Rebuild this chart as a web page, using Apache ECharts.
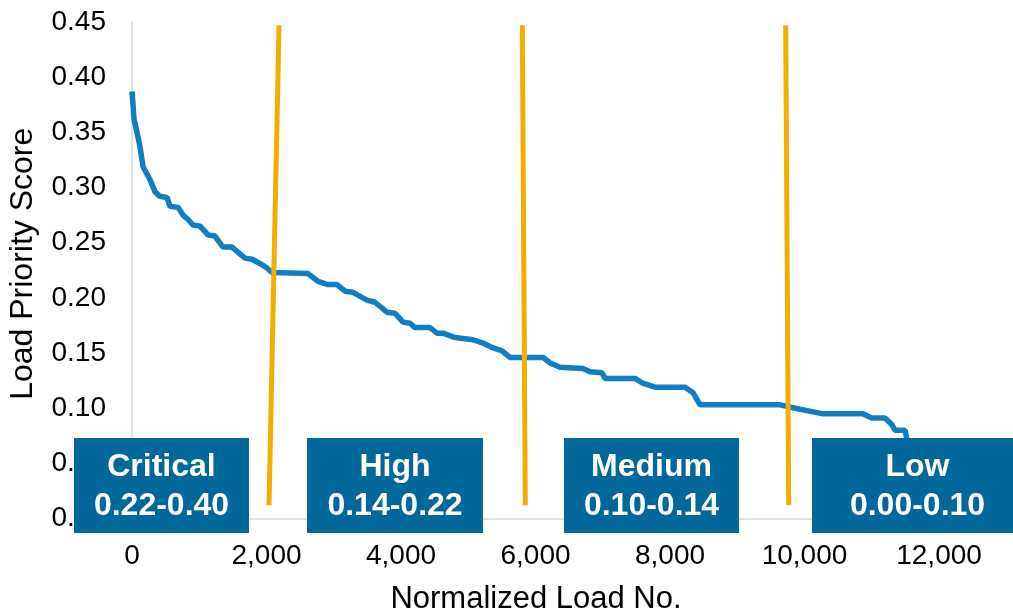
<!DOCTYPE html>
<html>
<head>
<meta charset="utf-8">
<script src="https://cdn.jsdelivr.net/npm/echarts@6/dist/echarts.min.js"></script>
<style>
html,body{margin:0;padding:0;background:#fff;}
#chart{width:1013px;height:612px;}
</style>
</head>
<body>
<div id="chart"></div>
<script>
// Normalized load number (x) and load priority score (y) of the sorted curve
const loadNo = [0, 15, 30, 74, 119, 164, 268, 342, 416, 520,
  565, 684, 758, 833, 907, 1011, 1130, 1234, 1353, 1487,
  1680, 1784, 1933, 2007, 2082, 2617, 2766, 2915, 3048, 3167,
  3286, 3494, 3613, 3792, 3911, 4030, 4134, 4208, 4431, 4535,
  4625, 4803, 5071, 5219, 5353, 5502, 5621, 5770, 6112, 6216,
  6364, 6706, 6811, 6989, 7034, 7480, 7584, 7777, 8223, 8342,
  8446, 9636, 9933, 10186, 10260, 10870, 11004, 11197, 11301, 11346,
  11495, 11525, 11530];
const score = [0.387, 0.375, 0.362, 0.350, 0.337, 0.319, 0.307, 0.296, 0.292, 0.291,
  0.283, 0.282, 0.275, 0.271, 0.266, 0.265, 0.257, 0.256, 0.246, 0.246,
  0.236, 0.235, 0.230, 0.227, 0.223, 0.222, 0.215, 0.212, 0.212, 0.206,
  0.205, 0.198, 0.196, 0.187, 0.186, 0.178, 0.177, 0.173, 0.173, 0.168,
  0.168, 0.164, 0.162, 0.159, 0.155, 0.152, 0.146, 0.146, 0.146, 0.141,
  0.137, 0.136, 0.133, 0.132, 0.127, 0.127, 0.123, 0.119, 0.119, 0.114,
  0.103, 0.103, 0.099, 0.096, 0.095, 0.095, 0.091, 0.091, 0.085, 0.080,
  0.080, 0.071, 0.060];

// Dividing lines between priority classes
const dividerTopX = [2186, 5804, 9720];
const dividerBottomX = [2037, 5848, 9765];
const dividerTopY = 0.447;
const dividerBottomY = 0.012;

// Class labels
const classNames = ['Critical', 'High', 'Medium', 'Low'];
const classRanges = ['0.22-0.40', '0.14-0.22', '0.10-0.14', '0.00-0.10'];

// Axis ticks
const xTicks = [0, 2000, 4000, 6000, 8000, 10000, 12000];
const yTicks = [0, 0.05, 0.10, 0.15, 0.20, 0.25, 0.30, 0.35, 0.40, 0.45];

const FONT = '"Liberation Sans", Arial, sans-serif';
const chart = echarts.init(document.getElementById('chart'), null, {renderer: 'canvas'});

const curve = loadNo.map((x, i) => [x, score[i]]);
const dividerSeries = dividerTopX.map((xt, i) => ({
  type: 'line',
  data: [[xt, dividerTopY], [dividerBottomX[i], dividerBottomY]],
  showSymbol: false,
  symbol: 'none',
  lineStyle: {color: '#F2AF00', width: 5},
  z: 5,
  silent: true,
  animation: false
}));

// box positions (annotation layout, px)
const boxLeft = [74, 307, 564, 812];
const boxWidth = [175, 176, 175, 211];
const boxTop = 438, boxHeight = 95;

const graphics = classNames.map((name, i) => ({
  type: 'group',
  z: 100,
  children: [
    {type: 'rect', shape: {x: boxLeft[i], y: boxTop, width: boxWidth[i], height: boxHeight},
     style: {fill: '#02679A'}, z: 100},
    {type: 'text', x: boxLeft[i] + boxWidth[i] / 2, y: boxTop + boxHeight / 2 + 1.5, z: 101,
     style: {text: name + '\n' + classRanges[i], fill: '#fff', font: 'bold 32px ' + FONT,
             align: 'center', verticalAlign: 'middle', lineHeight: 39}}
  ]
}));

chart.setOption({
  animation: false,
  grid: {left: 132, right: 0, top: 22, bottom: 93.5, containLabel: false, outerBoundsMode: 'none'},
  xAxis: {
    type: 'value', min: 0, max: 13100, interval: 2000,
    name: 'Normalized Load No.', nameLocation: 'middle', nameGap: 65,
    nameTextStyle: {fontSize: 31, color: '#000', fontFamily: FONT, padding: [0, 73, 0, 0]},
    axisLine: {show: true, lineStyle: {color: '#D9D9D9', width: 1.5}},
    axisTick: {show: false},
    splitLine: {show: false},
    axisLabel: {
      margin: 24, fontSize: 28, color: '#000', fontFamily: FONT,
      formatter: v => xTicks.includes(v) ? v.toLocaleString('en-US') : ''
    }
  },
  yAxis: {
    type: 'value', min: 0, max: 0.45, interval: 0.05,
    name: 'Load Priority Score', nameLocation: 'middle', nameGap: 93,
    nameTextStyle: {fontSize: 32, color: '#000', fontFamily: FONT, padding: [0, 0, 0, 13]},
    axisLine: {show: true, lineStyle: {color: '#D9D9D9', width: 1.5}},
    axisTick: {show: false},
    splitLine: {show: false},
    axisLabel: {
      margin: 26, fontSize: 28, color: '#000', fontFamily: FONT,
      formatter: v => yTicks.some(t => Math.abs(t - v) < 1e-9) ? v.toFixed(2) : ''
    }
  },
  series: [{
    type: 'line',
    data: curve,
    showSymbol: false,
    symbol: 'none',
    lineStyle: {color: '#127EC2', width: 5.5},
    z: 3,
    silent: true
  }].concat(dividerSeries),
  graphic: graphics
});
</script>
</body>
</html>
